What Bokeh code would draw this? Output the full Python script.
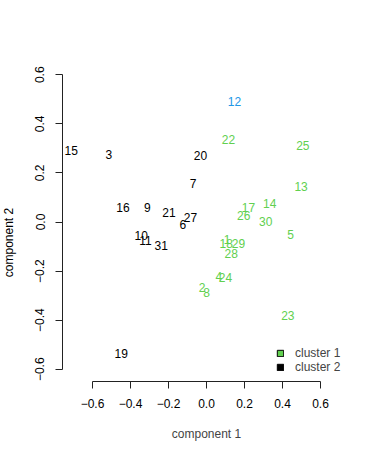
import math
from bokeh.plotting import figure
from bokeh.models import (ColumnDataSource, Range1d, FixedTicker, Legend, LegendItem, Label)
from bokeh.core.properties import value
from bokeh.embed import file_html
from bokeh.resources import INLINE

# ---- data ----
ids = [1, 2, 3, 4, 5, 6, 7, 8, 9, 10, 11, 12, 13, 14, 15, 16,
       17, 18, 19, 20, 21, 22, 23, 24, 25, 26, 27, 28, 29, 30, 31]
comp1 = [0.108, -0.023, -0.514, 0.065, 0.442, -0.125, -0.070, 0.000, -0.312, -0.344, -0.321,
         0.147, 0.498, 0.333, -0.712, -0.440, 0.221, 0.104, -0.449, -0.032, -0.198,
         0.116, 0.428, 0.100, 0.507, 0.196, -0.084, 0.130, 0.168, 0.312, -0.238]
comp2 = [-0.072, -0.268, 0.275, -0.222, -0.051, -0.010, 0.158, -0.287, 0.059, -0.054, -0.075,
         0.490, 0.143, 0.074, 0.291, 0.059, 0.058, -0.086, -0.537, 0.270, 0.039,
         0.337, -0.382, -0.228, 0.313, 0.028, 0.017, -0.127, -0.086, 0.001, -0.097]
cluster = [1, 1, 2, 1, 1, 2, 2, 1, 2, 2, 2,
           3, 1, 1, 2, 2, 1, 1, 2, 2, 2,
           1, 1, 1, 1, 1, 2, 1, 1, 1, 2]
cluster_colors = {1: "#61D04F", 2: "#000000", 3: "#2297E6"}
legend_labels = ["cluster 1", "cluster 2"]
legend_colors = ["#61D04F", "#000000"]

x_ticks = [-0.6, -0.4, -0.2, 0.0, 0.2, 0.4, 0.6]
x_tick_labels = ["\u22120.6", "\u22120.4", "\u22120.2", "0.0", "0.2", "0.4", "0.6"]
y_ticks = [-0.6, -0.4, -0.2, 0.0, 0.2, 0.4, 0.6]
y_tick_labels = ["\u22120.6", "\u22120.4", "\u22120.2", "0.0", "0.2", "0.4", "0.6"]

FONT = "Liberation Sans"

src = ColumnDataSource(dict(
    x=comp1, y=comp2, label=[str(i) for i in ids],
    color=[cluster_colors[c] for c in cluster],
))

x0, x1 = -0.758, 0.758
y0, y1 = -0.65, 0.65

p = figure(width=380, height=456, output_backend="svg", toolbar_location=None,
           x_range=Range1d(x0, x1), y_range=Range1d(y0, y1),
           min_border_left=62, min_border_top=62, min_border_right=30, min_border_bottom=75)
p.outline_line_color = None
p.grid.visible = False
p.background_fill_color = "white"
p.border_fill_color = "white"

p.text(x="x", y="y", text="label", source=src, text_color="color",
       text_font=value(FONT), text_font_size="12px",
       text_align="center", text_baseline="middle")

# axes
for ax, ticks, labels in ((p.xaxis[0], x_ticks, x_tick_labels), (p.yaxis[0], y_ticks, y_tick_labels)):
    ax.ticker = FixedTicker(ticks=ticks)
    ax.major_label_overrides = {t: l for t, l in zip(ticks, labels)}
    ax.bounds = (ticks[0], ticks[-1])
    ax.minor_tick_line_color = None
    ax.major_tick_out = 7
    ax.major_tick_in = 0
    ax.axis_line_color = "#222222"
    ax.major_tick_line_color = "#222222"
    ax.major_label_text_font = FONT
    ax.major_label_text_font_size = "12px"
    ax.major_label_text_color = "black"

p.xaxis.major_label_standoff = 10
p.yaxis.major_label_standoff = 11
p.yaxis.major_label_orientation = "vertical"
p.xaxis.axis_label = "component 1"
p.xaxis.axis_label_text_font = FONT
p.xaxis.axis_label_text_font_size = "12px"
p.xaxis.axis_label_text_font_style = "normal"
p.xaxis.axis_label_standoff = 16

# y axis title, positioned like R's (a little below the frame centre), in the left panel
ylab = Label(x=-10, y=139, x_units="screen", y_units="screen", text="component 2",
             angle=math.pi / 2, text_align="center", text_baseline="middle",
             text_font=FONT, text_font_size="12px", text_color="black")
p.add_layout(ylab, "left")

# legend (swatch renderers hold no drawable coordinates)
nan = float("nan")
items = []
for lab, col in zip(legend_labels, legend_colors):
    r = p.quad(left=[nan], right=[nan], top=[nan], bottom=[nan],
               fill_color=col, line_color="black", line_width=1)
    items.append(LegendItem(label=lab, renderers=[r]))
legend = Legend(items=items, location=(214, 7), border_line_color=None,
                background_fill_alpha=0, padding=0, margin=0, spacing=0,
                glyph_width=8, glyph_height=8, label_standoff=11, label_height=14,
                label_text_font=FONT, label_text_font_size="12px")
p.add_layout(legend, "center")

open("out.html", "w").write(file_html(p, INLINE))
